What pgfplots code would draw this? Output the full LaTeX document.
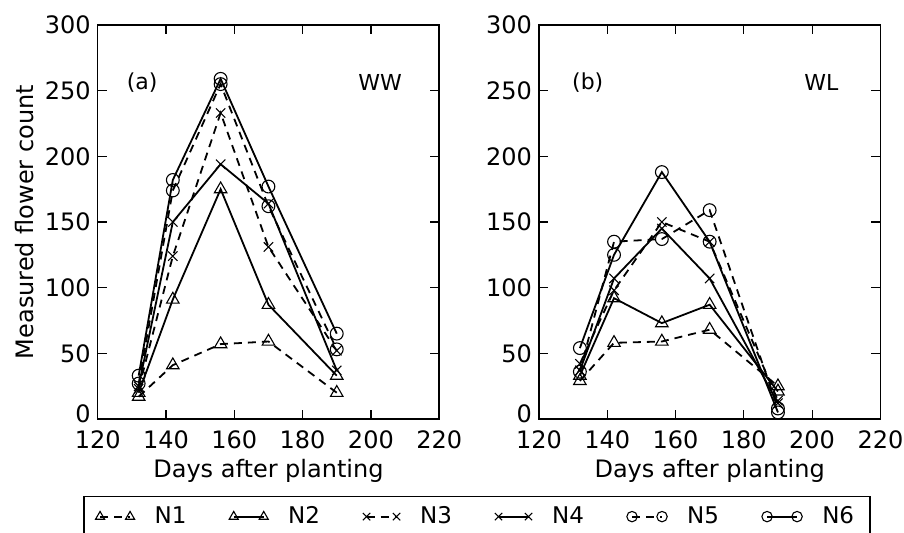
\documentclass[border=0pt]{standalone}
\usepackage{fontspec}
\setmainfont{DejaVu Sans}
\usepackage{pgfplots}
\pgfplotsset{compat=1.18}

\pgfplotsset{
  panel/.style={
    scale only axis, width=170.75pt, height=197pt,
    xmin=120, xmax=220, ymin=0, ymax=300,
    xtick={120,140,...,220}, ytick={50,100,...,300},
    extra y ticks={0},
    extra y tick style={yticklabel style={yshift=2.5pt}},
    tick align=inside, major tick length=4.5pt,
    axis line style={line width=0.75pt},
    tick style={line width=0.6pt, black},
    ticklabel style={font=\fontsize{12}{14}\selectfont},
    xticklabel style={yshift=-2.5pt},
    /pgf/number format/assume math mode=true,
    /pgf/number format/1000 sep={},
    every axis x label/.style={at={(axis description cs:0.5,-0.132)}, anchor=center, font=\fontsize{12}{14}\selectfont},
    every axis y label/.style={at={(axis description cs:-0.213,0.5)}, anchor=center, rotate=90, font=\fontsize{12}{14}\selectfont},
    xlabel={Days after planting},
    legend image code/.code={\draw[mark repeat=1, mark phase=1, #1, mark size=2.6pt] plot coordinates {(0pt,0pt) (15pt,0pt)};},
  },
  base/.style={black, line width=0.9pt, mark options={solid, line width=0.55pt}},
  dsh/.style={dash pattern=on 4pt off 3pt},
  n1/.style={base, dsh, mark=triangle, mark size=3.6pt},
  n2/.style={base, mark=triangle, mark size=3.6pt},
  n3/.style={base, dsh, mark=x, mark size=3.3pt},
  n4/.style={base, mark=x, mark size=3.3pt},
  n5/.style={base, dsh, mark=o, mark size=3.2pt},
  n6/.style={base, mark=o, mark size=3.2pt},
}

\begin{document}
\begin{tikzpicture}
\useasboundingbox (-48.85pt,-57pt) rectangle (403.15pt,209.5pt);

% (a) well watered
\begin{axis}[panel,
  ylabel={Measured flower count},
  legend columns=6,
  legend style={at={(-0.043,-0.195)}, anchor=north west, draw=black, line width=0.75pt,
    inner xsep=5.9pt, inner ysep=3pt, font=\fontsize{11.5}{13}\selectfont,
    nodes={inner xsep=2pt},
    /tikz/every odd column/.append style={column sep=8pt},
    /tikz/every even column/.append style={column sep=19.4pt}},
]
\addplot[n1] coordinates {(132,17) (142,41) (156,57) (170,59) (190,20)};
\addlegendentry{N1}
\addplot[n2] coordinates {(132,20) (142,91) (156,175) (170,87) (190,33)};
\addlegendentry{N2}
\addplot[n3] coordinates {(132,23) (142,124) (156,233) (170,131) (190,52)};
\addlegendentry{N3}
\addplot[n4] coordinates {(132,25) (142,150) (156,194) (170,164) (190,37)};
\addlegendentry{N4}
\addplot[n5] coordinates {(132,27) (142,174) (156,255) (170,162) (190,53)};
\addlegendentry{N5}
\addplot[n6] coordinates {(132,33) (142,182) (156,259) (170,177) (190,65)};
\addlegendentry{N6}
\node[font=\fontsize{11}{13}\selectfont] at (axis cs:133,256) {(a)};
\node[font=\fontsize{11}{13}\selectfont] at (axis cs:202.7,256) {WW};
\end{axis}

% (b) water limited
\begin{axis}[panel, at={(220.6pt,0pt)}]
\addplot[n1] coordinates {(132,29) (142,58) (156,59) (170,68) (190,25)};
\addplot[n2] coordinates {(132,33) (142,92) (156,73) (170,87) (190,21)};
\addplot[n3] coordinates {(132,42) (142,98) (156,150) (170,135) (190,14)};
\addplot[n4] coordinates {(132,37) (142,107) (156,145) (170,107) (190,12)};
\addplot[n5] coordinates {(132,36) (142,135) (156,137) (170,159) (190,8)};
\addplot[n6] coordinates {(132,54) (142,125) (156,188) (170,135) (190,5)};
\node[font=\fontsize{11}{13}\selectfont] at (axis cs:134.3,256) {(b)};
\node[font=\fontsize{11}{13}\selectfont] at (axis cs:202.7,256) {WL};
\end{axis}
\end{tikzpicture}
\end{document}
